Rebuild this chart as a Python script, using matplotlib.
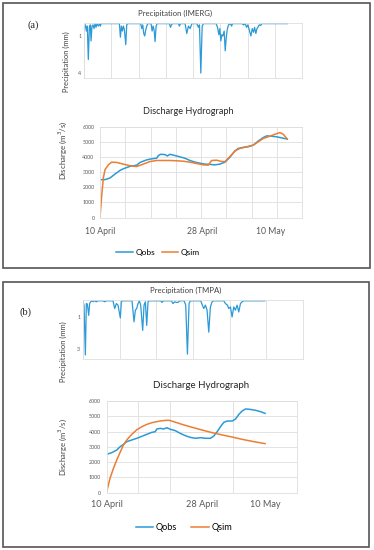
# Rainfall (IMERG / TMPA) and discharge hydrographs, two stacked panels (a) and (b)
import matplotlib
matplotlib.use('Agg')
import matplotlib.pyplot as plt
from matplotlib.patches import Rectangle
from matplotlib.ticker import MultipleLocator

# ---- data, x in days from 10 April ----
# precipitation (mm), IMERG, panel (a)
precip_a_day = [0.00, 0.22, 0.38, 0.54, 0.70, 0.87, 1.03, 1.14, 1.30, 1.46, 1.63, 1.79, 1.95, 2.11, 2.33, 2.55, 2.66, 2.76,
                5.75, 5.91, 6.07, 6.23, 6.40, 6.56, 6.78, 6.94, 7.10,
                9.21, 9.38, 9.54, 9.70, 9.86, 10.03, 10.19, 10.35, 10.89, 11.06, 11.22, 11.38, 11.54, 11.71, 11.87,
                13.88, 14.04, 14.20, 14.36, 15.34, 15.50, 15.66, 16.42, 16.69, 16.96, 17.24, 17.51,
                18.32, 18.59, 18.75, 18.97, 19.19, 19.40,
                21.46, 21.68, 21.90, 22.06, 22.22, 22.38, 22.55, 22.76, 22.93, 23.09, 23.25, 23.47, 23.79, 23.96, 24.12,
                25.64, 25.91, 26.18, 26.40, 26.61, 26.83, 27.10, 27.32, 27.53, 27.70, 27.91, 28.08, 28.24, 28.46, 28.67,
                28.89, 33.00]
precip_a_mm = [0.4, 0.1, 0.6, 0.2, 2.9, 0.3, 0.1, 1.4, 0.2, 0.1, 0.4, 0.0, 0.3, 0.0, 0.2, 0.0, 0.2, 0.0,
               0.0, 1.1, 0.2, 0.6, 0.2, 0.5, 1.7, 0.1, 0.0,
               0.0, 0.4, 0.1, 0.8, 1.0, 0.5, 0.2, 0.0, 0.0, 0.6, 0.2, 0.5, 1.45, 0.2, 0.0,
               0.0, 0.3, 0.1, 0.0, 0.0, 0.2, 0.0, 0.0, 0.8, 0.2, 0.4, 0.0,
               0.0, 0.3, 0.1, 4.0, 0.2, 0.0,
               0.0, 0.3, 0.9, 0.4, 1.4, 0.9, 1.0, 0.6, 2.2, 1.2, 0.5, 0.1, 0.0, 0.2, 0.0,
               0.0, 0.1, 0.0, 0.3, 0.1, 0.5, 1.0, 0.4, 0.7, 0.3, 0.8, 0.4, 0.3, 0.1, 0.15,
               0.0, 0.0]

# precipitation (mm), TMPA, panel (b)
precip_b_day = [0.00, 0.17, 0.39, 0.55, 0.72, 0.94, 1.10, 1.27, 1.49, 1.65, 1.93, 2.20, 2.48, 3.30, 3.58, 3.85,
                4.95, 5.23, 5.50, 5.78, 6.16, 6.33, 6.49,
                8.09, 8.42, 8.64, 8.86, 9.08, 9.30, 9.52, 9.85, 10.07, 10.29, 10.51, 10.73, 10.90,
                12.82, 13.04, 13.26, 14.58, 14.86, 15.13, 15.41, 15.69, 15.96,
                16.68, 16.95, 17.23, 17.50, 17.72,
                19.43, 19.70, 19.92, 20.20, 20.47, 20.75, 21.02, 21.30, 21.52,
                23.23, 23.50, 23.83, 24.05, 24.33, 24.60, 24.88, 25.15, 25.43, 25.70, 25.98, 26.25, 26.47,
                30.00]
precip_b_mm = [0.06, 0.27, 3.35, 0.17, 0.2, 0.9, 0.17, 0.06, 0.0, 0.05, 0.0, 0.06, 0.0, 0.0, 0.06, 0.0,
               0.0, 0.48, 0.17, 0.27, 1.06, 0.06, 0.0,
               0.0, 1.3, 0.58, 0.48, 0.17, 0.0, 0.27, 1.83, 0.27, 0.06, 1.52, 0.06, 0.0,
               0.0, 0.1, 0.0, 0.0, 0.17, 0.06, 0.1, 0.1, 0.0,
               0.0, 0.27, 3.3, 0.17, 0.0,
               0.0, 0.27, 0.48, 0.27, 0.58, 1.94, 0.38, 0.06, 0.0,
               0.0, 0.17, 0.27, 0.48, 0.38, 1.0, 0.38, 0.58, 0.27, 0.69, 0.17, 0.06, 0.0,
               0.0]

# discharge (m3/s), panel (a)
qobs_a_day = [0.00, 0.88, 1.76, 2.64, 3.52, 4.11, 5.28, 6.46, 7.05, 8.22, 9.10, 9.98, 10.28, 10.69, 11.45, 11.86,
              12.33, 13.50, 14.97, 15.85, 16.74, 17.62, 18.50, 19.38, 20.26, 21.14, 22.02, 22.90, 23.78, 24.37,
              25.25, 26.13, 27.01, 27.89, 28.77, 29.36, 30.24, 31.12, 32.00, 33.00]
qobs_a = [2510, 2510, 2620, 2880, 3120, 3230, 3390, 3470, 3650, 3820, 3890, 3930, 4100, 4190, 4170, 4080,
          4190, 4080, 3930, 3780, 3670, 3600, 3540, 3520, 3490, 3540, 3670, 4000, 4410, 4580,
          4650, 4690, 4800, 5070, 5300, 5410, 5390, 5350, 5280, 5200]
qsim_a_day = [0.00, 0.29, 0.59, 0.88, 1.47, 2.06, 2.94, 4.11, 5.28, 6.46, 7.63, 8.81, 9.98, 11.16, 12.33, 13.50,
              14.68, 15.85, 17.03, 18.20, 19.08, 19.67, 20.55, 21.43, 22.02, 22.90, 23.78, 24.66, 25.84, 27.01,
              27.89, 28.77, 29.95, 30.83, 31.71, 32.30, 33.00]
qsim_a = [0, 1420, 2620, 3170, 3490, 3670, 3650, 3540, 3430, 3380, 3540, 3710, 3780, 3780, 3780, 3760,
          3730, 3670, 3580, 3490, 3470, 3780, 3800, 3710, 3710, 4040, 4410, 4580, 4690, 4800,
          5020, 5240, 5390, 5520, 5630, 5520, 5200]

# discharge (m3/s), panel (b)
qobs_b_day = [0.00, 0.95, 1.90, 2.54, 3.17, 3.80, 4.76, 5.71, 6.66, 7.61, 8.56, 9.19, 9.51, 10.15, 10.78, 11.41,
              12.05, 13.00, 13.95, 14.90, 15.85, 16.80, 17.76, 18.71, 19.66, 20.29, 20.93, 21.56, 22.19, 22.83,
              23.78, 24.41, 25.05, 25.68, 26.32, 26.95, 27.58, 28.22, 29.17, 30.00]
qobs_b = [2510, 2620, 2790, 3010, 3160, 3340, 3450, 3560, 3690, 3820, 3950, 3990, 4170, 4210, 4170, 4250,
          4150, 4060, 3880, 3730, 3620, 3560, 3600, 3560, 3560, 3710, 3990, 4320, 4600, 4690,
          4690, 4820, 5130, 5350, 5480, 5460, 5430, 5390, 5300, 5190]
qsim_b_day = [0.00, 0.63, 1.27, 1.90, 2.54, 3.17, 3.80, 4.76, 5.71, 6.66, 7.61, 8.56, 9.51, 10.46, 11.41, 11.86,
              12.68, 14.27, 16.17, 18.07, 19.97, 21.88, 23.78, 25.68, 27.58, 30.00]
qsim_b = [70, 940, 1590, 2140, 2640, 3120, 3450, 3820, 4120, 4320, 4470, 4580, 4650, 4710, 4735, 4735,
          4650, 4470, 4280, 4100, 3930, 3780, 3640, 3490, 3360, 3210]

date_ticks = [0, 18, 30]
date_labels = ['10 April', '28 April', '10 May']
q_ticks = [0, 1000, 2000, 3000, 4000, 5000, 6000]

BLUE = '#2b9ad6'
ORANGE = '#ed7d31'
GRID = '#dedede'
TXT = '#404040'

plt.rcParams['font.family'] = ['Lato', 'DejaVu Sans']

W, H = 374, 550
fig = plt.figure(figsize=(W / 100, H / 100), dpi=100)
fig.patch.set_facecolor('white')


def px_axes(left, top, right, bottom):
    # axes placed by pixel edges of the 374x550 picture
    return fig.add_axes([left / W, 1 - bottom / H, (right - left) / W, (bottom - top) / H])


def px_text(x, y, s, **kw):
    fig.text(x / W, 1 - y / H, s, **kw)


def style_axes(ax, col):
    for sp in ax.spines.values():
        sp.set_color(GRID)
        sp.set_linewidth(0.6)
    ax.xaxis.set_minor_locator(MultipleLocator(col))
    ax.grid(which='minor', axis='x', color=GRID, lw=0.6)
    ax.tick_params(which='both', length=0, colors='#595959')
    ax.set_axisbelow(True)


def precip_panel(top, bottom, left, right, days, mm, col, xmax, ymax, yticks):
    ax = px_axes(left, top, right, bottom)
    ax.plot(days, mm, color=BLUE, lw=0.9)
    ax.set_xlim(0, xmax)
    ax.set_ylim(ymax, -0.05)
    ax.set_xticks([])
    ax.set_yticks(yticks)
    ax.set_yticklabels([str(t) for t in yticks], fontsize=3.8)
    style_axes(ax, col)
    ax.tick_params(axis='y', pad=2)
    return ax


def discharge_panel(top, bottom, left, right, obs_d, obs, sim_d, sim, col, xmax, lab_size, pad):
    ax = px_axes(left, top, right, bottom)
    l1, = ax.plot(obs_d, obs, color=BLUE, lw=1.1, label='Qobs')
    l2, = ax.plot(sim_d, sim, color=ORANGE, lw=1.1, label='Qsim')
    ax.set_xlim(0, xmax)
    ax.set_ylim(0, 6000)
    ax.set_yticks(q_ticks)
    ax.set_yticklabels([str(t) for t in q_ticks], fontsize=3.9)
    ax.set_xticks(date_ticks)
    ax.set_xticklabels(date_labels, fontsize=lab_size, color='#262626')
    style_axes(ax, col)
    ax.grid(which='major', axis='y', color=GRID, lw=0.6)
    ax.tick_params(axis='x', pad=pad)
    ax.tick_params(axis='y', pad=4)
    return ax, l1, l2


# ---------------- panel (a) ----------------
fig.add_artist(Rectangle((3 / W, 1 - 268 / H), 367 / W, 265 / H, transform=fig.transFigure,
                         fill=False, ec='#555555', lw=1.2))
px_text(33, 25, '(a)', fontsize=7.5, family='Liberation Serif', ha='center', va='center', color='#222222')

precip_panel(23, 78, 84, 302, precip_a_day, precip_a_mm, 4.43, 35.4, 4.4, [1, 4])
px_text(175, 13, 'Precipitation (IMERG)', fontsize=5.6, ha='center', va='center', color=TXT)
px_text(66, 62, 'Precipitation (mm)', fontsize=5.4, rotation=90, ha='center', va='center', color=TXT)

ax_a, la1, la2 = discharge_panel(127, 217.5, 100, 302, qobs_a_day, qobs_a, qsim_a_day, qsim_a,
                                 4.45, 35.6, 6.2, 6.5)
px_text(188, 111, 'Discharge Hydrograph', fontsize=6.6, ha='center', va='center', color='#262626')
px_text(63, 150, 'Discharge (m$^3$/s)', fontsize=5.7, rotation=90, ha='center', va='center', color=TXT)
ax_a.legend(handles=[la1, la2], loc='center', bbox_to_anchor=(158 / W, 1 - 252 / H),
            bbox_transform=fig.transFigure, ncol=2, frameon=False, fontsize=6.0,
            handlelength=2.0, columnspacing=0.8, handletextpad=0.3)

# ---------------- panel (b) ----------------
fig.add_artist(Rectangle((3 / W, 1 - 547 / H), 366 / W, 265 / H, transform=fig.transFigure,
                         fill=False, ec='#555555', lw=1.2))
px_text(25, 312, '(b)', fontsize=7.5, family='Liberation Serif', ha='center', va='center', color='#222222')

precip_panel(300, 359, 83, 303, precip_b_day, precip_b_mm, 6.05, 36.3, 3.6, [1, 3])
px_text(185.5, 290, 'Precipitation (TMPA)', fontsize=5.6, ha='center', va='center', color=TXT)
px_text(63, 352, 'Precipitation (mm)', fontsize=5.4, rotation=90, ha='center', va='center', color=TXT)

ax_b, lb1, lb2 = discharge_panel(401, 492.7, 106.7, 296.7, qobs_b_day, qobs_b, qsim_b_day, qsim_b,
                                 6.0, 36.0, 6.6, 5.5)
px_text(201, 386, 'Discharge Hydrograph', fontsize=7.0, ha='center', va='center', color='#262626')
px_text(63, 447, 'Discharge (m$^3$/s)', fontsize=5.5, rotation=90, ha='center', va='center', color=TXT)
ax_b.legend(handles=[lb1, lb2], loc='center', bbox_to_anchor=(184 / W, 1 - 528 / H),
            bbox_transform=fig.transFigure, ncol=2, frameon=False, fontsize=6.6,
            handlelength=1.9, columnspacing=1.5, handletextpad=0.3)

fig.savefig('out.png', dpi=100)
